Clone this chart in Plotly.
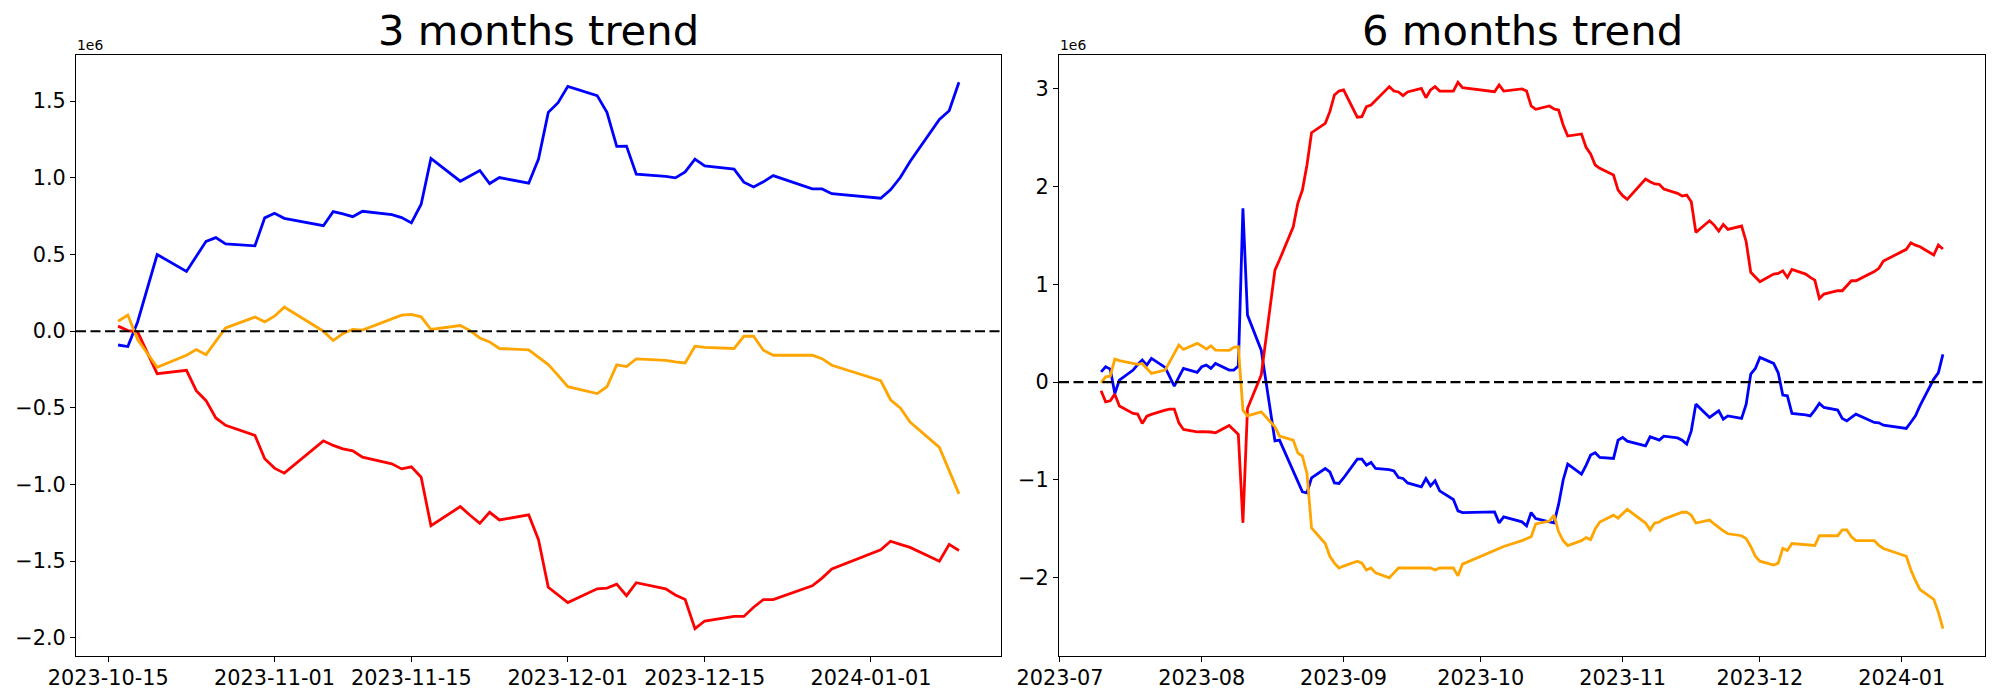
import pandas as pd
import plotly.graph_objects as go

SCALE = 1e6

# ---------------- 3 months data (values in units of 1e6) ----------------
L_DATES = [
    "2023-10-16", "2023-10-17", "2023-10-18", "2023-10-20", "2023-10-23", "2023-10-24",
    "2023-10-25", "2023-10-26", "2023-10-27", "2023-10-30", "2023-10-31",
    "2023-11-01", "2023-11-02", "2023-11-06", "2023-11-07", "2023-11-08", "2023-11-09",
    "2023-11-10", "2023-11-13", "2023-11-14", "2023-11-15", "2023-11-16", "2023-11-17",
    "2023-11-20", "2023-11-21", "2023-11-22", "2023-11-23", "2023-11-24", "2023-11-27",
    "2023-11-28", "2023-11-29", "2023-11-30",
    "2023-12-01", "2023-12-04", "2023-12-05", "2023-12-06", "2023-12-07", "2023-12-08",
    "2023-12-11", "2023-12-12", "2023-12-13", "2023-12-14", "2023-12-15", "2023-12-18",
    "2023-12-19", "2023-12-20", "2023-12-21", "2023-12-22", "2023-12-26", "2023-12-27",
    "2023-12-28",
    "2024-01-02", "2024-01-03", "2024-01-04", "2024-01-05", "2024-01-08", "2024-01-09",
    "2024-01-10",
]
L_BLUE = [
    -0.09, -0.10, 0.06, 0.50, 0.39, 0.49, 0.586, 0.61, 0.569, 0.557, 0.739,
    0.769, 0.736, 0.688, 0.78, 0.765, 0.747, 0.782, 0.76, 0.741, 0.706, 0.828, 1.127,
    0.978, 1.013, 1.048, 0.963, 1.002, 0.965, 1.122, 1.427, 1.49,
    1.597, 1.536, 1.427, 1.205, 1.207, 1.024, 1.01, 1.0, 1.039, 1.122, 1.078, 1.057,
    0.972, 0.941, 0.974, 1.015, 0.928, 0.928, 0.897,
    0.867, 0.922, 1.002, 1.107, 1.381, 1.438, 1.623,
]
L_RED = [
    0.033, 0.004, -0.004, -0.277, -0.255, -0.388, -0.453, -0.566, -0.614, -0.680, -0.832,
    -0.893, -0.926, -0.715, -0.745, -0.767, -0.780, -0.821, -0.865, -0.898, -0.885, -0.952, -1.268,
    -1.144, -1.20, -1.253, -1.181, -1.231, -1.198, -1.36, -1.67, -1.72,
    -1.77, -1.68, -1.675, -1.65, -1.725, -1.64, -1.68, -1.72, -1.75, -1.94, -1.89, -1.86,
    -1.86, -1.80, -1.75, -1.75, -1.66, -1.61, -1.55,
    -1.425, -1.37, -1.39, -1.41, -1.50, -1.39, -1.43,
]
L_ORANGE = [
    0.065, 0.105, -0.054, -0.235, -0.157, -0.120, -0.153, -0.065, 0.022, 0.092, 0.061,
    0.098, 0.157, 0.0, -0.061, -0.015, 0.011, 0.007, 0.083, 0.105, 0.109, 0.094, 0.011,
    0.037, 0.004, -0.044, -0.070, -0.113, -0.122, -0.17, -0.218, -0.288,
    -0.362, -0.407, -0.362, -0.220, -0.231, -0.181, -0.19, -0.20, -0.207, -0.098, -0.105, -0.113,
    -0.033, -0.033, -0.124, -0.157, -0.157, -0.179, -0.222,
    -0.322, -0.447, -0.501, -0.593, -0.758, -0.915, -1.061,
]

# ---------------- 6 months data (values in units of 1e6) ----------------
R_DATES = [
    "2023-07-10", "2023-07-11", "2023-07-12", "2023-07-13", "2023-07-14", "2023-07-17",
    "2023-07-18", "2023-07-19", "2023-07-20", "2023-07-21", "2023-07-24", "2023-07-25",
    "2023-07-26", "2023-07-27", "2023-07-28", "2023-07-31",
    "2023-08-01", "2023-08-02", "2023-08-03", "2023-08-04", "2023-08-07", "2023-08-08",
    "2023-08-09", "2023-08-10", "2023-08-11", "2023-08-14", "2023-08-17", "2023-08-18",
    "2023-08-21", "2023-08-22", "2023-08-23", "2023-08-24", "2023-08-25", "2023-08-28",
    "2023-08-29", "2023-08-30", "2023-08-31",
    "2023-09-01", "2023-09-04", "2023-09-05", "2023-09-06", "2023-09-07", "2023-09-08",
    "2023-09-11", "2023-09-12", "2023-09-13", "2023-09-14", "2023-09-15", "2023-09-18",
    "2023-09-19", "2023-09-20", "2023-09-21", "2023-09-22", "2023-09-25", "2023-09-26",
    "2023-09-27",
    "2023-10-04", "2023-10-05", "2023-10-06", "2023-10-10", "2023-10-11", "2023-10-12",
    "2023-10-13", "2023-10-16", "2023-10-17", "2023-10-18", "2023-10-19", "2023-10-20",
    "2023-10-23", "2023-10-24", "2023-10-25", "2023-10-26", "2023-10-27", "2023-10-30",
    "2023-10-31",
    "2023-11-01", "2023-11-02", "2023-11-06", "2023-11-07", "2023-11-08", "2023-11-09",
    "2023-11-10", "2023-11-13", "2023-11-14", "2023-11-15", "2023-11-16", "2023-11-17",
    "2023-11-20", "2023-11-21", "2023-11-22", "2023-11-23", "2023-11-24", "2023-11-27",
    "2023-11-28", "2023-11-29", "2023-11-30",
    "2023-12-01", "2023-12-04", "2023-12-05", "2023-12-06", "2023-12-07", "2023-12-08",
    "2023-12-11", "2023-12-12", "2023-12-13", "2023-12-14", "2023-12-15", "2023-12-18",
    "2023-12-19", "2023-12-20", "2023-12-21", "2023-12-22", "2023-12-26", "2023-12-27",
    "2023-12-28",
    "2024-01-02", "2024-01-03", "2024-01-04", "2024-01-05", "2024-01-08", "2024-01-09",
    "2024-01-10",
]
R_RED = [
    -0.089, -0.201, -0.191, -0.123, -0.245, -0.32, -0.327, -0.423, -0.348, -0.33, -0.286, -0.276,
    -0.276, -0.416, -0.484, -0.508,
    -0.505, -0.504, -0.51, -0.518, -0.443, -0.49, -0.535, -1.438, -0.269, 0.072, 1.145, 1.25,
    1.588, 1.827, 1.963, 2.219, 2.549, 2.645, 2.764, 2.935, 2.975,
    2.986, 2.707, 2.713, 2.815, 2.832, 2.88, 3.02, 2.975, 2.965, 2.928, 2.965, 3.003,
    2.907, 2.986, 3.02, 2.975, 2.975, 3.064, 3.01,
    2.968, 3.037, 2.975, 2.996, 2.975, 2.822, 2.788, 2.822, 2.791, 2.781, 2.628, 2.515,
    2.536, 2.40, 2.331, 2.219, 2.185, 2.117, 1.963,
    1.905, 1.868, 2.076, 2.048, 2.025, 2.021, 1.973, 1.929, 1.902, 1.912, 1.844, 1.531,
    1.649, 1.605, 1.544, 1.612, 1.561, 1.595, 1.435, 1.122, 1.07,
    1.026, 1.104, 1.111, 1.138, 1.07, 1.152, 1.104, 1.07, 1.043, 0.855, 0.90, 0.934,
    0.934, 0.985, 1.036, 1.036, 1.13, 1.163, 1.237,
    1.357, 1.424, 1.40, 1.383, 1.299, 1.401, 1.36,
]
R_BLUE = [
    0.105, 0.157, 0.133, -0.116, 0.02, 0.123, 0.18, 0.225, 0.174, 0.242, 0.15, 0.055,
    -0.041, 0.05, 0.14, 0.10,
    0.157, 0.174, 0.14, 0.191, 0.123, 0.123, 0.164, 1.776, 0.685, 0.327, -0.60, -0.593,
    -0.91, -1.01, -1.121, -1.131, -0.978, -0.883, -0.917, -1.03, -1.036,
    -0.98, -0.787, -0.787, -0.849, -0.821, -0.883, -0.895, -0.907, -0.975, -0.985, -1.03, -1.07,
    -0.985, -1.06, -1.009, -1.111, -1.2, -1.316, -1.333,
    -1.326, -1.439, -1.377, -1.428, -1.469, -1.333, -1.394, -1.428, -1.439, -1.25, -1.0, -0.838,
    -0.941, -0.85, -0.746, -0.722, -0.77, -0.78, -0.593,
    -0.566, -0.603, -0.651, -0.559, -0.575, -0.593, -0.552, -0.57, -0.593, -0.634, -0.498, -0.225,
    -0.361, -0.33, -0.293, -0.378, -0.345, -0.371, -0.225, 0.082, 0.14,
    0.252, 0.191, 0.095, -0.133, -0.14, -0.32, -0.335, -0.345, -0.286, -0.218, -0.259, -0.286,
    -0.371, -0.396, -0.36, -0.327, -0.412, -0.416, -0.44,
    -0.473, -0.41, -0.345, -0.24, 0.031, 0.095, 0.283,
]
R_ORANGE = [
    -0.007, 0.054, 0.061, 0.235, 0.22, 0.19, 0.181, 0.191, 0.14, 0.089, 0.123, 0.208,
    0.29, 0.378, 0.334, 0.396,
    0.37, 0.337, 0.371, 0.327, 0.324, 0.355, 0.361, -0.286, -0.345, -0.304, -0.457, -0.552,
    -0.593, -0.723, -0.757, -0.934, -1.49, -1.65, -1.78, -1.85, -1.9,
    -1.88, -1.83, -1.85, -1.92, -1.9, -1.95, -2.0, -1.95, -1.9, -1.9, -1.9, -1.9,
    -1.9, -1.9, -1.92, -1.9, -1.9, -1.98, -1.86,
    -1.72, -1.70, -1.68, -1.62, -1.60, -1.58, -1.45, -1.42, -1.36, -1.53, -1.62, -1.67,
    -1.62, -1.59, -1.61, -1.5, -1.43, -1.36, -1.39,
    -1.35, -1.30, -1.44, -1.51, -1.44, -1.43, -1.40, -1.35, -1.33, -1.33, -1.36, -1.44,
    -1.41, -1.45, -1.49, -1.52, -1.55, -1.57, -1.60, -1.68, -1.78,
    -1.83, -1.87, -1.85, -1.70, -1.72, -1.65, -1.66, -1.66, -1.67, -1.57, -1.57, -1.57,
    -1.51, -1.51, -1.58, -1.62, -1.62, -1.67, -1.70,
    -1.78, -1.92, -2.03, -2.12, -2.22, -2.35, -2.52,
]

# ---------------- ticks / titles ----------------
TITLES = ["3 months trend", "6 months trend"]
L_XTICKS = ["2023-10-15", "2023-11-01", "2023-11-15", "2023-12-01", "2023-12-15", "2024-01-01"]
L_XTICK_TEXT = ["2023-10-15", "2023-11-01", "2023-11-15", "2023-12-01", "2023-12-15", "2024-01-01"]
R_XTICKS = ["2023-07-01", "2023-08-01", "2023-09-01", "2023-10-01", "2023-11-01", "2023-12-01", "2024-01-01"]
R_XTICK_TEXT = ["2023-07", "2023-08", "2023-09", "2023-10", "2023-11", "2023-12", "2024-01"]
L_YTICKS = [1.5, 1.0, 0.5, 0.0, -0.5, -1.0, -1.5, -2.0]
L_YTICK_TEXT = ["1.5", "1.0", "0.5", "0.0", "\u22120.5", "\u22121.0", "\u22121.5", "\u22122.0"]
R_YTICKS = [3, 2, 1, 0, -1, -2]
R_YTICK_TEXT = ["3", "2", "1", "0", "\u22121", "\u22122"]
OFFSET_TEXT = "1e6"

COLORS = {"blue": "#0000ff", "red": "#ff0000", "orange": "#ffa500"}
FONT = "DejaVu Sans"
W, H = 2000, 700
DOM_L = [76 / W, 1001 / W]
DOM_R = [1059 / W, 1985 / W]
DOM_Y = [44 / H, 645 / H]


def date_range(dates):
    ts = pd.to_datetime(pd.Series(dates))
    lo, hi = ts.min(), ts.max()
    pad = (hi - lo) * 0.05
    return [str(lo - pad), str(hi + pad)]


def val_range(*series):
    allv = [v * SCALE for s in series for v in s]
    lo, hi = min(allv), max(allv)
    pad = (hi - lo) * 0.05
    return [lo - pad, hi + pad]


fig = go.Figure()

panels = [
    ("x", "y", L_DATES, L_BLUE, L_RED, L_ORANGE),
    ("x2", "y2", R_DATES, R_BLUE, R_RED, R_ORANGE),
]
for xa, ya, dates, b, r, o in panels:
    for name, vals in (("blue", b), ("red", r), ("orange", o)):
        fig.add_trace(go.Scatter(
            x=dates, y=[v * SCALE for v in vals], mode="lines",
            line=dict(color=COLORS[name], width=2.8),
            xaxis=xa, yaxis=ya, showlegend=False, hoverinfo="skip",
        ))

axis_common = dict(
    showgrid=False, zeroline=False, showline=True, mirror=True, automargin=False,
    linecolor="black", linewidth=1.1, ticks="outside", ticklen=5,
    tickwidth=1.1, tickcolor="black",
    tickfont=dict(family=FONT, size=20.8, color="black"),
)

fig.update_layout(
    width=W, height=H,
    margin=dict(l=0, r=0, t=0, b=0),
    paper_bgcolor="white", plot_bgcolor="white",
    xaxis=dict(domain=DOM_L, anchor="y", type="date", range=date_range(L_DATES),
               tickmode="array", tickvals=L_XTICKS, ticktext=L_XTICK_TEXT,
               ticklabelstandoff=-2, **axis_common),
    yaxis=dict(domain=DOM_Y, anchor="x", range=val_range(L_BLUE, L_RED, L_ORANGE),
               tickmode="array", tickvals=[t * SCALE for t in L_YTICKS],
               ticktext=L_YTICK_TEXT, **axis_common),
    xaxis2=dict(domain=DOM_R, anchor="y2", type="date", range=date_range(R_DATES),
                tickmode="array", tickvals=R_XTICKS, ticktext=R_XTICK_TEXT,
                ticklabelstandoff=-2, **axis_common),
    yaxis2=dict(domain=DOM_Y, anchor="x2", range=val_range(R_BLUE, R_RED, R_ORANGE),
                tickmode="array", tickvals=[t * SCALE for t in R_YTICKS],
                ticktext=R_YTICK_TEXT, **axis_common),
)

# zero reference lines
for xd, ya in (("x domain", "y"), ("x2 domain", "y2")):
    fig.add_shape(type="line", xref=xd, yref=ya, x0=0, x1=1, y0=0, y1=0,
                  line=dict(color="black", width=2.1, dash="10px,4.5px"), layer="above")

# titles and offset labels
for dom, title in ((DOM_L, TITLES[0]), (DOM_R, TITLES[1])):
    fig.add_annotation(x=(dom[0] + dom[1]) / 2, y=DOM_Y[1], xref="paper", yref="paper",
                       text=title, showarrow=False, xanchor="center", yanchor="bottom",
                       yshift=-2, font=dict(family=FONT, size=41.7, color="black"))
    fig.add_annotation(x=dom[0], y=DOM_Y[1], xref="paper", yref="paper",
                       text=OFFSET_TEXT, showarrow=False, xanchor="left", yanchor="bottom",
                       xshift=-1, yshift=0, font=dict(family=FONT, size=13.9, color="black"))

fig.write_html("out.html", config={"displayModeBar": False},
               post_script="document.body.style.margin='0';")
